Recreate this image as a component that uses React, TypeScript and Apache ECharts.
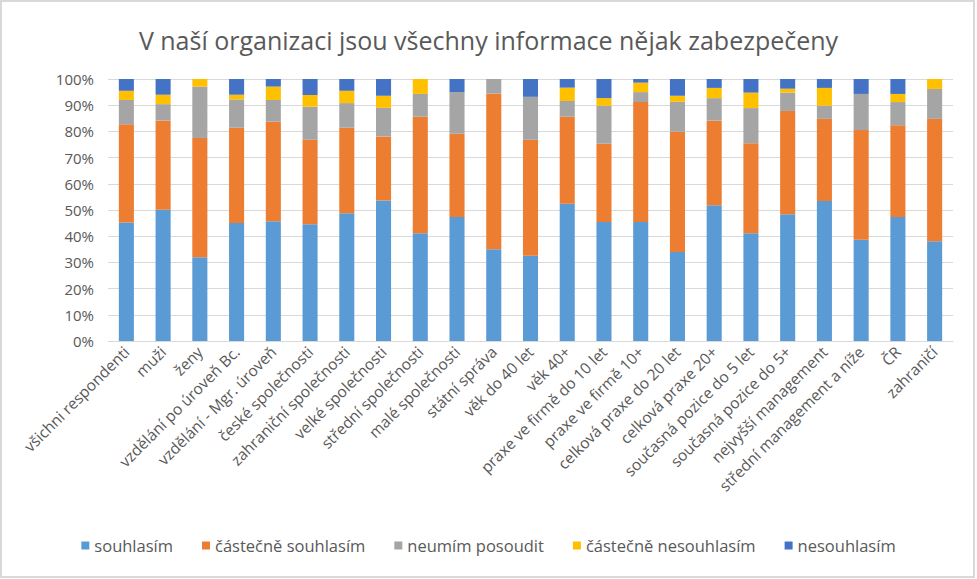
import React, { useEffect, useRef } from "react";
import * as echarts from "echarts";

const categories = [
  "všichni respondenti",
  "muži",
  "ženy",
  "vzdělání po úroveň Bc.",
  "vzdělání - Mgr. úroveň",
  "české společnosti",
  "zahraniční společnosti",
  "velké společnosti",
  "střední společnosti",
  "malé společnosti",
  "státní správa",
  "věk do 40 let",
  "věk 40+",
  "praxe ve firmě do 10 let",
  "praxe ve firmě 10+",
  "celková praxe do 20 let",
  "celková praxe 20+",
  "současná pozice do 5 let",
  "současná pozice do 5+",
  "nejvyšší management",
  "střední management a níže",
  "ČR",
  "zahraničí",
];

const souhlasim = [45.2, 50.1, 32.0, 45.0, 45.7, 44.6, 48.8, 53.6, 41.1, 47.3, 35.0, 32.5, 52.4, 45.4, 45.4, 34.0, 51.8, 41.1, 48.4, 53.4, 38.6, 47.3, 38.1];
const castecneSouhlasim = [37.5, 34.0, 45.5, 36.4, 38.0, 32.2, 32.6, 24.5, 44.5, 31.8, 59.4, 44.3, 33.2, 29.9, 45.8, 45.9, 32.3, 34.4, 39.4, 31.4, 41.9, 35.0, 46.7];
const neumimPosoudit = [9.3, 6.3, 19.6, 10.8, 8.3, 12.6, 9.4, 10.9, 8.7, 15.9, 5.6, 16.4, 6.0, 14.5, 3.8, 11.4, 8.6, 13.4, 7.0, 5.0, 13.8, 8.9, 11.4];
const castecneNesouhlasim = [3.5, 3.6, 2.9, 1.8, 5.1, 4.5, 4.7, 4.6, 5.7, 0, 0, 0, 5.1, 2.9, 3.6, 2.3, 3.9, 5.9, 1.5, 6.8, 0, 3.1, 3.8];
const nesouhlasim = [4.5, 6.0, 0, 6.0, 2.9, 6.1, 4.5, 6.4, 0, 5.0, 0, 6.8, 3.3, 7.3, 1.4, 6.4, 3.4, 5.2, 3.7, 3.4, 5.7, 5.7, 0];

const seriesNames = ["souhlasím", "částečně souhlasím", "neumím posoudit", "částečně nesouhlasím", "nesouhlasím"];
const seriesData = [souhlasim, castecneSouhlasim, neumimPosoudit, castecneNesouhlasim, nesouhlasim];
const colors = ["#5b9bd5", "#ed7d31", "#a5a5a5", "#ffc000", "#4472c4"];

const FONT = "'Open Sans', 'Noto Sans', sans-serif";

export default function App() {
  const ref = useRef<HTMLDivElement>(null);
  useEffect(() => {
    if (!ref.current) return;
    const chart = echarts.init(ref.current, undefined, { renderer: "svg" });
    const series = seriesNames.map((name, si) => ({
      name,
      type: "bar",
      stack: "total",
      barWidth: "41%",
      data: seriesData[si].map((v, i) => {
        const tot = seriesData.reduce((s, arr) => s + arr[i], 0);
        return (v / tot) * 100;
      }),
      itemStyle: { color: colors[si] },
    }));
    chart.setOption({
      animation: false,
      backgroundColor: "#ffffff",
      color: colors,
      title: {
        text: "V naší organizaci jsou všechny informace nějak zabezpečeny",
        left: "center",
        top: 22,
        textStyle: { fontFamily: FONT, fontSize: 25, fontWeight: "normal", color: "#595959" },
      },
      graphic: [
        {
          type: "rect",
          shape: { x: 1, y: 1, width: 973, height: 576 },
          style: { fill: "none", stroke: "#d9d9d9", lineWidth: 2 },
          silent: true,
        },
      ],
      legend: {
        bottom: 20,
        left: "center",
        itemWidth: 8,
        itemHeight: 8,
        itemGap: 29,
        icon: "rect",
        textStyle: { fontFamily: FONT, fontSize: 16.5, color: "#595959" },
        data: seriesNames,
      },
      grid: { left: 108, right: 24, top: 79, bottom: 238, containLabel: false },
      xAxis: {
        type: "category",
        data: categories,
        axisLine: { lineStyle: { color: "#d9d9d9" } },
        axisTick: { show: false },
        axisLabel: {
          rotate: 45,
          interval: 0,
          margin: 8,
          fontFamily: FONT,
          fontSize: 15.5,
          color: "#595959",
        },
      },
      yAxis: {
        type: "value",
        min: 0,
        max: 100,
        interval: 10,
        axisLine: { show: false },
        axisTick: { show: false },
        splitLine: { lineStyle: { color: "#d9d9d9" } },
        axisLabel: {
          formatter: "{value}%",
          margin: 14,
          fontFamily: FONT,
          fontSize: 15,
          color: "#595959",
        },
      },
      series,
    });
    return () => chart.dispose();
  }, []);
  return (
    <div
      ref={ref}
      style={{ position: "fixed", left: 0, top: 0, width: 977, height: 579 }}
    />
  );
}
